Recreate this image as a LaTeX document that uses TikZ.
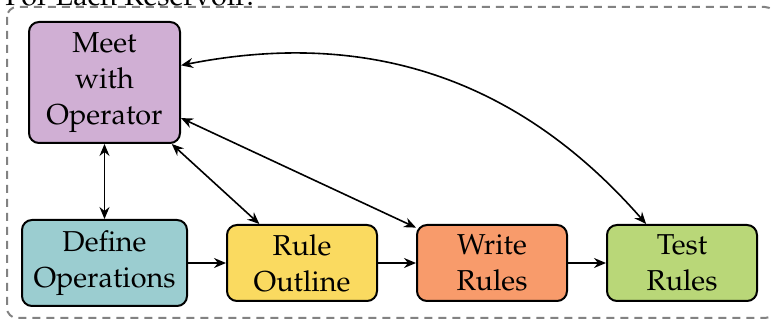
\documentclass[tikz,border=0pt]{standalone}
\usepackage[T1]{fontenc}
\usepackage{mathpazo}
\usetikzlibrary{arrows.meta}

\definecolor{meetfill}{RGB}{208,175,212}
\definecolor{definefill}{RGB}{155,205,208}
\definecolor{rulefill}{RGB}{250,218,96}
\definecolor{writefill}{RGB}{248,155,107}
\definecolor{testfill}{RGB}{185,215,120}
\definecolor{framegray}{RGB}{130,130,130}

\tikzset{
  stagebox/.style={draw=black, line width=1pt, rounded corners=5pt,
    align=center, inner sep=0pt, font=\Large,
    minimum width=75pt, minimum height=38pt},
  link/.style={line width=0.8pt,
    {Stealth[length=6pt,width=5pt,inset=2pt]}-{Stealth[length=6pt,width=5pt,inset=2pt]}},
  flow/.style={line width=0.8pt, -{Stealth[length=6pt,width=5pt,inset=2pt]}},
  groupframe/.style={draw=framegray, line width=1pt, dash pattern=on 4pt off 3pt,
    rounded corners=5pt}
}

\begin{document}
\begin{tikzpicture}[x=0.5pt,y=0.5pt]
  \useasboundingbox (0,0) rectangle (771,-320);

  % group frame and its caption
  \draw[groupframe] (7,-7) rectangle (775,-318);
  \node[anchor=base west, inner sep=0pt, font=\Large] (title) at (5,-6) {For Each Reservoir:};

  % stages
  \node[stagebox, fill=meetfill, minimum width=75.5pt, minimum height=60.5pt] (meet) at (104.5,-82.5) {Meet\\with\\Operator};
  \node[stagebox, fill=definefill, minimum width=82.5pt, minimum height=43pt] (define) at (104.5,-263) {Define\\Operations};
  \node[stagebox, fill=rulefill] (rule) at (302,-263) {Rule\\Outline};
  \node[stagebox, fill=writefill] (write) at (492,-263) {Write\\Rules};
  \node[stagebox, fill=testfill] (test) at (682,-263) {Test\\Rules};

  % two-way links with the operator
  \draw[link] (meet) -- (define);
  \draw[link] (meet) -- (rule);
  \draw[link] (meet) -- (write);
  \draw[link] (meet) to[bend left=30] (test);

  % main sequence
  \draw[flow] (define) -- (rule);
  \draw[flow] (rule) -- (write);
  \draw[flow] (write) -- (test);
\end{tikzpicture}
\end{document}
